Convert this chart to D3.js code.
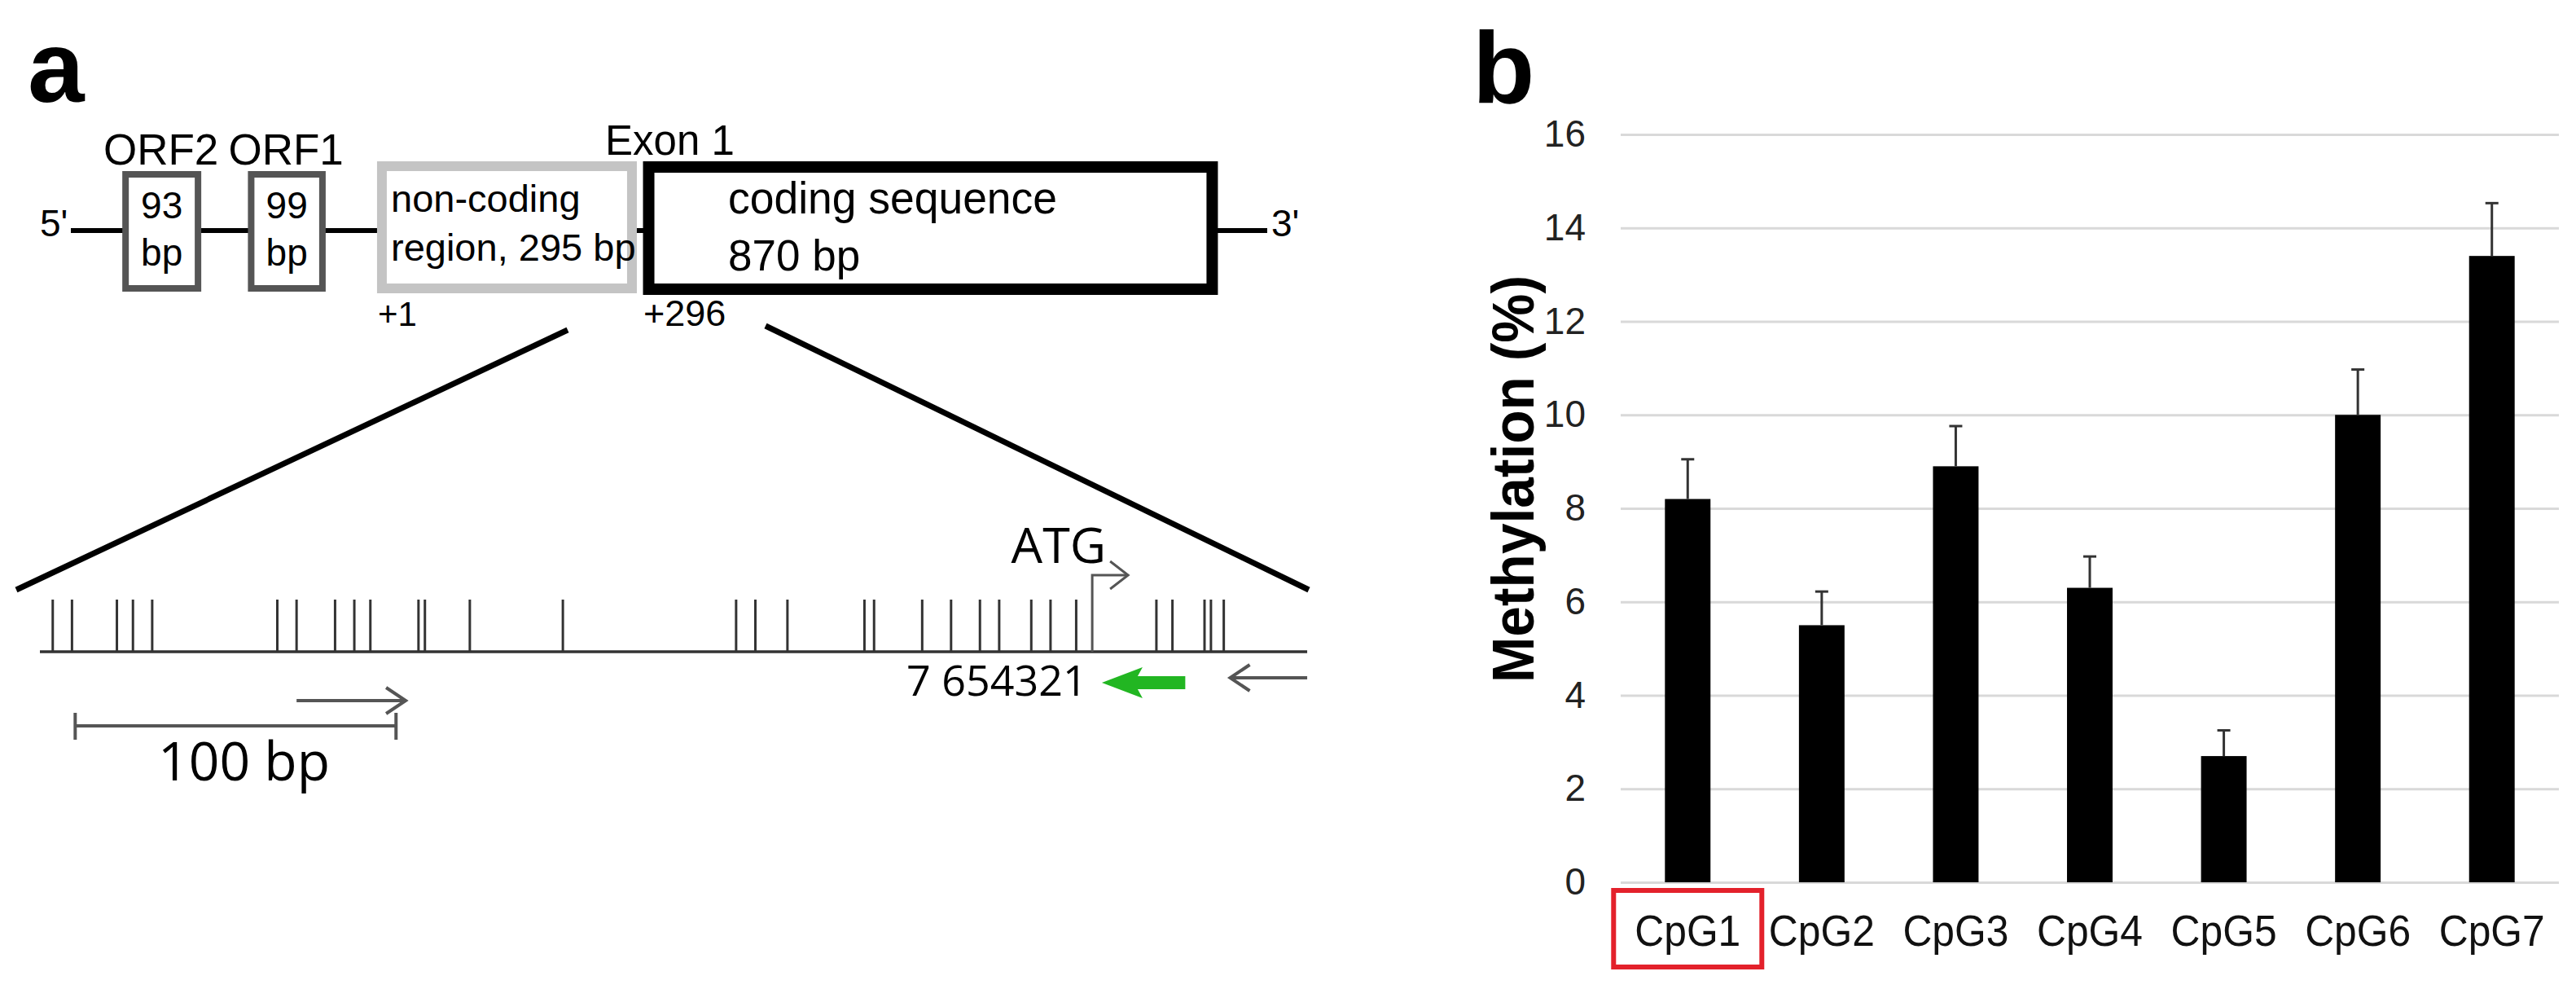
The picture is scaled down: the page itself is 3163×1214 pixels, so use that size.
<!DOCTYPE html>
<html>
<head>
<meta charset="utf-8">
<script src="https://cdn.jsdelivr.net/npm/d3@7"></script>
<style>
  body { margin: 0; background: #fff; }
  svg { display: block; }
</style>
</head>
<body>
<div id="chart"></div>
<script>
// ---- data ----
const categories = ['CpG1', 'CpG2', 'CpG3', 'CpG4', 'CpG5', 'CpG6', 'CpG7']
const methylation = [8.2, 5.5, 8.9, 6.3, 2.7, 10.0, 13.4]
const methylationErr = [0.85, 0.72, 0.86, 0.67, 0.55, 0.97, 1.13]
const yTicks = [0, 2, 4, 6, 8, 10, 12, 14, 16]

// CpG sites along the enlarged sequence (bp, ATG = +296)
const cpgSites = [-28, -22, -8, -3, 3, 42, 48, 60, 66, 71, 86, 88, 102, 131, 185, 191, 201,
  225, 228, 243, 252, 261, 267, 277, 283, 291, 316, 321, 331, 333, 337]
const atgPos = 296
const seqRange = [-32, 363]
const scaleBarBp = [-21, 79]
const forwardPrimer = [48, 82]
const reversePrimer = [339, 363]
const pyroPrimer = [299, 325]

// schematic gene parts (schematic units 0..100 along the 5'->3' line)
const geneParts = [
  { name: 'ORF2', line1: '93', line2: 'bp', start: 4.3, end: 10.9 },
  { name: 'ORF1', line1: '99', line2: 'bp', start: 14.8, end: 21.3 }
]

const W = 3163, H = 1214
const svg = d3.select('#chart').append('svg')
  .attr('width', W).attr('height', H)
  .attr('viewBox', `0 0 ${W} ${H}`)

const ARIAL = "'Liberation Sans', Arial, sans-serif"
const OPEN = "'Open Sans', 'Noto Sans', sans-serif"

// ================= panel a =================
const a = svg.append('g')

a.append('text').attr('x', 34).attr('y', 125)
  .attr('font-family', ARIAL).attr('font-weight', 'bold').attr('font-size', 125).text('a')

const gx = d3.scaleLinear().domain([0, 100]).range([87, 1556])
const lineY = 283

// backbone
a.append('line').attr('x1', gx(0)).attr('x2', gx(100)).attr('y1', lineY).attr('y2', lineY)
  .attr('stroke', '#000').attr('stroke-width', 6)
a.append('text').attr('x', 49).attr('y', 290).attr('font-family', ARIAL).attr('font-size', 46).text("5'")
a.append('text').attr('x', 1561).attr('y', 290).attr('font-family', ARIAL).attr('font-size', 46).text("3'")

// ORF boxes
geneParts.forEach(p => {
  const x0 = gx(p.start), x1 = gx(p.end)
  a.append('rect').attr('x', x0 + 4).attr('y', 214).attr('width', x1 - x0 - 8).attr('height', 140)
    .attr('fill', '#fff').attr('stroke', '#555').attr('stroke-width', 8)
  a.append('text').attr('x', (x0 + x1) / 2 - 1).attr('y', 202).attr('text-anchor', 'middle')
    .attr('font-family', ARIAL).attr('font-size', 53).text(p.name)
  a.append('text').attr('x', (x0 + x1) / 2).attr('y', 268).attr('text-anchor', 'middle')
    .attr('font-family', ARIAL).attr('font-size', 46).text(p.line1)
  a.append('text').attr('x', (x0 + x1) / 2).attr('y', 326).attr('text-anchor', 'middle')
    .attr('font-family', ARIAL).attr('font-size', 46).text(p.line2)
})

// non-coding region
a.append('rect').attr('x', gx(26.0)).attr('y', 204).attr('width', gx(46.9) - gx(26.0)).attr('height', 150)
  .attr('fill', '#fff').attr('stroke', '#c4c4c4').attr('stroke-width', 12)
a.append('text').attr('x', 480).attr('y', 260).attr('font-family', ARIAL).attr('font-size', 47).text('non-coding')
a.append('text').attr('x', 480).attr('y', 320).attr('font-family', ARIAL).attr('font-size', 47).text('region, 295 bp')

// coding sequence
a.append('rect').attr('x', gx(48.3)).attr('y', 205).attr('width', gx(95.4) - gx(48.3)).attr('height', 150)
  .attr('fill', '#fff').attr('stroke', '#000').attr('stroke-width', 14)
a.append('text').attr('x', 894).attr('y', 262).attr('font-family', ARIAL).attr('font-size', 55)
  .attr('textLength', 404).attr('lengthAdjust', 'spacingAndGlyphs').text('coding sequence')
a.append('text').attr('x', 894).attr('y', 332).attr('font-family', ARIAL).attr('font-size', 53).text('870 bp')
a.append('text').attr('x', 743).attr('y', 190).attr('font-family', ARIAL).attr('font-size', 51).text('Exon 1')
a.append('text').attr('x', 464).attr('y', 400).attr('font-family', ARIAL).attr('font-size', 42).text('+1')
a.append('text').attr('x', 790).attr('y', 400).attr('font-family', ARIAL).attr('font-size', 45).text('+296')

// zoom lines
a.append('line').attr('x1', 697).attr('y1', 405).attr('x2', 20).attr('y2', 724)
  .attr('stroke', '#000').attr('stroke-width', 7)
a.append('line').attr('x1', 940).attr('y1', 400).attr('x2', 1607).attr('y2', 724)
  .attr('stroke', '#000').attr('stroke-width', 7)

// enlarged sequence
const sx = d3.scaleLinear().domain([-32, 364]).range([49, 1609])
const seqY = 800
a.append('line').attr('x1', sx(seqRange[0])).attr('x2', sx(seqRange[1])).attr('y1', seqY).attr('y2', seqY)
  .attr('stroke', '#333').attr('stroke-width', 3.5)

a.append('g').selectAll('line').data(cpgSites).join('line')
  .attr('x1', d => sx(d)).attr('x2', d => sx(d))
  .attr('y1', 736).attr('y2', seqY)
  .attr('stroke', '#333').attr('stroke-width', 3)

// ATG bent arrow
const ax = sx(atgPos)
a.append('path')
  .attr('d', `M${ax},${seqY} V706 H${ax + 44}`)
  .attr('fill', 'none').attr('stroke', '#555').attr('stroke-width', 3)
a.append('path')
  .attr('d', `M${ax + 22},689 L${ax + 44},706 L${ax + 22},723`)
  .attr('fill', 'none').attr('stroke', '#555').attr('stroke-width', 3)
a.append('text').attr('x', ax + 17).attr('y', 691).attr('text-anchor', 'end')
  .attr('font-family', OPEN).attr('font-size', 61).text('ATG')

// CpG numbering
a.append('text').attr('x', 1113).attr('y', 854).attr('font-family', OPEN).attr('font-size', 52).text('7 654321')

// primers
function openArrow(x0, x1, y, dir) {
  const tip = dir > 0 ? x1 : x0
  a.append('line').attr('x1', x0).attr('x2', x1).attr('y1', y).attr('y2', y)
    .attr('stroke', '#555').attr('stroke-width', 4)
  a.append('path')
    .attr('d', `M${tip - dir * 24},${y - 16} L${tip},${y} L${tip - dir * 24},${y + 16}`)
    .attr('fill', 'none').attr('stroke', '#555').attr('stroke-width', 4)
}
openArrow(sx(forwardPrimer[0]), sx(forwardPrimer[1]), 860, 1)
openArrow(sx(reversePrimer[0]), sx(reversePrimer[1]), 832, -1)

// pyrosequencing primer (green)
const g0 = sx(pyroPrimer[0]), g1 = sx(pyroPrimer[1]), gy = 838
a.append('path')
  .attr('d', `M${g0},${gy} L${g0 + 50},${gy - 19} L${g0 + 44},${gy - 8} L${g1},${gy - 8} L${g1},${gy + 8} L${g0 + 44},${gy + 8} L${g0 + 50},${gy + 19} Z`)
  .attr('fill', '#22b622')

// scale bar
const b0 = sx(scaleBarBp[0]), b1 = sx(scaleBarBp[1])
a.append('path')
  .attr('d', `M${b0},875 V908 M${b0},891 H${b1} M${b1},875 V908`)
  .attr('fill', 'none').attr('stroke', '#555').attr('stroke-width', 4)
a.append('text').attr('x', 194).attr('y', 958).attr('font-family', OPEN).attr('font-size', 66).text('100 bp')

// ================= panel b =================
const b = svg.append('g')
b.append('text').attr('x', 1808).attr('y', 126)
  .attr('font-family', ARIAL).attr('font-weight', 'bold').attr('font-size', 125).text('b')

const plotL = 1990, plotR = 3142, plotT = 165, plotB = 1083
const x = d3.scaleBand().domain(categories).range([plotL, plotR]).paddingInner(0.66).paddingOuter(0.33)
const y = d3.scaleLinear().domain([0, 16]).range([plotB, plotT])

// gridlines
b.append('g').attr('transform', `translate(${plotL},0)`)
  .call(d3.axisLeft(y).tickValues(yTicks).tickSize(-(plotR - plotL)).tickFormat(''))
  .call(g => g.select('.domain').remove())
  .call(g => g.selectAll('line').attr('stroke', '#d9d9d9').attr('stroke-width', 3))

// y tick labels
b.append('g').attr('transform', `translate(${plotL},0)`)
  .call(d3.axisLeft(y).tickValues(yTicks).tickSize(0).tickPadding(43))
  .call(g => g.select('.domain').remove())
  .call(g => g.selectAll('text').attr('font-family', ARIAL).attr('font-size', 46).attr('fill', '#222'))

// bars
b.append('g').selectAll('rect').data(categories).join('rect')
  .attr('x', d => x(d)).attr('width', x.bandwidth())
  .attr('y', (d, i) => y(methylation[i]))
  .attr('height', (d, i) => y(0) - y(methylation[i]))
  .attr('fill', '#000')

// error bars
const eb = b.append('g').attr('stroke', '#333').attr('stroke-width', 3)
categories.forEach((c, i) => {
  const cx = x(c) + x.bandwidth() / 2
  eb.append('line').attr('x1', cx).attr('x2', cx)
    .attr('y1', y(methylation[i])).attr('y2', y(methylation[i] + methylationErr[i]))
  eb.append('line').attr('x1', cx - 8).attr('x2', cx + 8)
    .attr('y1', y(methylation[i] + methylationErr[i])).attr('y2', y(methylation[i] + methylationErr[i]))
})

// x labels
b.append('g').attr('transform', `translate(0,${plotB})`)
  .call(d3.axisBottom(x).tickSize(0).tickPadding(40))
  .call(g => g.select('.domain').remove())
  .call(g => g.selectAll('text').attr('font-family', ARIAL).attr('font-size', 54).attr('fill', '#111')
    .attr('textLength', 130).attr('lengthAdjust', 'spacingAndGlyphs'))

// highlight box around CpG1
const c1 = x(categories[0]) + x.bandwidth() / 2
b.append('rect').attr('x', c1 - 91).attr('y', 1093).attr('width', 182).attr('height', 94)
  .attr('fill', 'none').attr('stroke', '#e3212b').attr('stroke-width', 6)

// y title
b.append('text')
  .attr('transform', 'translate(1883,588) rotate(-90)')
  .attr('text-anchor', 'middle')
  .attr('font-family', ARIAL).attr('font-weight', 'bold').attr('font-size', 72)
  .attr('textLength', 500).attr('lengthAdjust', 'spacingAndGlyphs')
  .text('Methylation (%)')
</script>
</body>
</html>
